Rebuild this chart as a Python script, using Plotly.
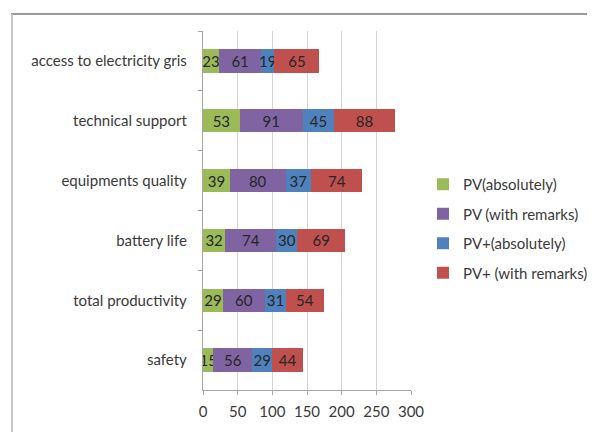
import plotly.graph_objects as go

categories = ["access to electricity gris", "technical support", "equipments quality",
              "battery life", "total productivity", "safety"]
series_names = ["PV(absolutely)", "PV (with remarks)", "PV+(absolutely)", "PV+ (with remarks)"]
pv_abs = [23, 53, 39, 32, 29, 15]
pv_rem = [61, 91, 80, 74, 60, 56]
pvp_abs = [19, 45, 37, 30, 31, 29]
pvp_rem = [65, 88, 74, 69, 54, 44]
x_ticks = [0, 50, 100, 150, 200, 250, 300]
colors = ["#9BBB59", "#8064A2", "#4F81BD", "#C0504D"]

# the page body adds an 8px margin; compensate so the figure lands where the reference is
OFF = 8
W, H = 595 - OFF, 432 - OFF
L, R, T, B = 203 - OFF, 184, 31 - OFF, 42
PW, PH = W - L - R, H - T - B

def px_x(p):
    return (p - OFF - L) / PW

def px_y(p):
    return (H - B - (p - OFF)) / PH

FONT = "Lato"
TXT = "#3a3a3a"
fig = go.Figure()
for name, vals, col in zip(series_names, [pv_abs, pv_rem, pvp_abs, pvp_rem], colors):
    fig.add_trace(go.Bar(
        y=categories, x=vals, name=name, orientation="h",
        marker=dict(color=col, line=dict(width=0)),
        text=[str(v) for v in vals], textposition="inside",
        insidetextanchor="middle", textangle=0, constraintext="none",
        textfont=dict(family=FONT, size=15, color="#262626"),
        legendgroup=name,
    ))

fig.update_layout(
    width=W, height=H, barmode="stack", bargap=0.61,
    margin=dict(l=L, r=R, t=T, b=B, pad=0, autoexpand=False),
    paper_bgcolor="white", plot_bgcolor="white",
    font=dict(family=FONT, size=15, color=TXT),
    xaxis=dict(range=[0, 300], tickvals=x_ticks, showgrid=True, gridcolor="#d4d4d4",
               gridwidth=1.3, showline=True, linecolor="#a6a6a6", linewidth=1.3,
               ticks="outside", ticklen=4, tickcolor="#a6a6a6", zeroline=False,
               automargin=False, ticklabelstandoff=4,
               tickfont=dict(family=FONT, size=15, color=TXT), fixedrange=True),
    yaxis=dict(autorange="reversed", type="category", showline=True, linecolor="#a6a6a6",
               linewidth=1.3, ticks="outside", ticklen=4, tickcolor="#a6a6a6",
               tickson="boundaries", showgrid=False, ticklabelstandoff=12,
               automargin=False,
               tickfont=dict(family=FONT, size=15, color=TXT)),
    legend=dict(x=px_x(423), y=px_y(168), xanchor="left", yanchor="top",
                traceorder="grouped", tracegroupgap=7,
                font=dict(family=FONT, size=15, color=TXT),
                itemwidth=30, bgcolor="rgba(0,0,0,0)"),
    showlegend=True,
    shapes=[
        dict(type="line", xref="paper", yref="paper", x0=px_x(11), x1=px_x(610),
             y0=px_y(14), y1=px_y(14), line=dict(color="#9a9a9a", width=2)),
        dict(type="line", xref="paper", yref="paper", x0=px_x(12), x1=px_x(12),
             y0=px_y(14), y1=px_y(450), line=dict(color="#c8c8c8", width=2)),
    ],
)

fig.write_html("out.html")
